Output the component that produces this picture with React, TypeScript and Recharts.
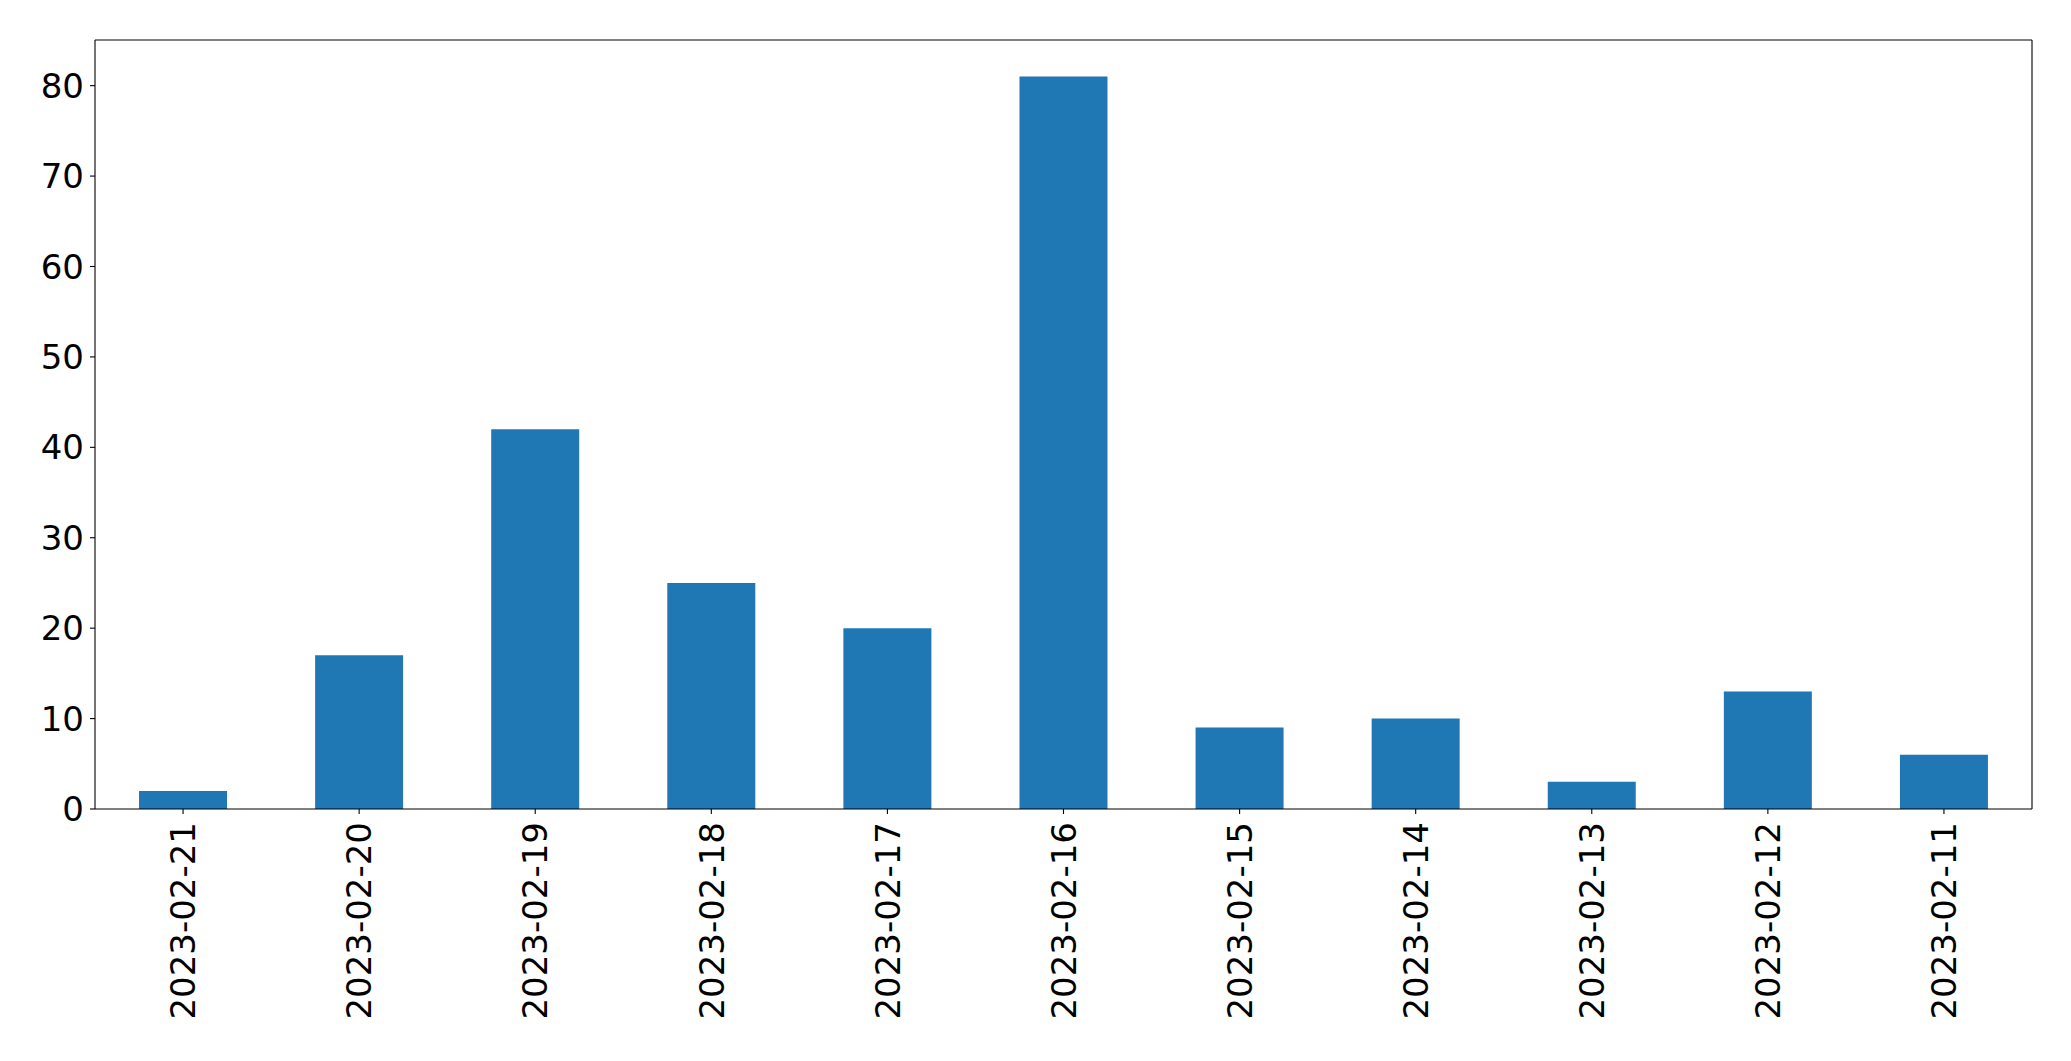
import { BarChart, Bar, XAxis, YAxis, ReferenceLine } from 'recharts'

const dates = [
  '2023-02-21', '2023-02-20', '2023-02-19', '2023-02-18', '2023-02-17', '2023-02-16',
  '2023-02-15', '2023-02-14', '2023-02-13', '2023-02-12', '2023-02-11',
]
const counts = [2, 17, 42, 25, 20, 81, 9, 10, 3, 13, 6]
const yTicks = [0, 10, 20, 30, 40, 50, 60, 70, 80]
const yMax = 85.05

const FONT = '"DejaVu Sans", sans-serif'
const FONT_SIZE = 34
const AXIS = { stroke: '#000', strokeWidth: 1.1 }

const chartData = dates.map((date, i) => ({ date, count: counts[i] }))

function RotatedTick(props: any) {
  const { x, y, payload } = props
  return (
    <text x={x} y={y} dy="0.36em" textAnchor="end" transform={`rotate(-90, ${x}, ${y})`}
      fontFamily={FONT} fontSize={FONT_SIZE} fill="#000">
      {payload.value}
    </text>
  )
}

export default function App() {
  return (
    <div style={{ position: 'absolute', left: 0, top: 0, background: '#fff' }}>
      <BarChart width={2071} height={1061} data={chartData} barCategoryGap="25%"
        margin={{ top: 40, right: 39, left: 0, bottom: 0 }}>
        <XAxis dataKey="date" height={252} interval={0} tickSize={5} tickMargin={8}
          axisLine={AXIS} tickLine={AXIS} tick={<RotatedTick />} />
        <YAxis type="number" domain={[0, yMax]} ticks={yTicks} width={95} allowDataOverflow
          tickSize={5} tickMargin={6} axisLine={AXIS} tickLine={AXIS}
          tick={{ fontFamily: FONT, fontSize: FONT_SIZE, fill: '#000' }} />
        <Bar dataKey="count" fill="#1f77b4" isAnimationActive={false} />
        <ReferenceLine y={yMax} {...AXIS} />
        <ReferenceLine x={dates[dates.length - 1]} position="end" {...AXIS} />
      </BarChart>
    </div>
  )
}
